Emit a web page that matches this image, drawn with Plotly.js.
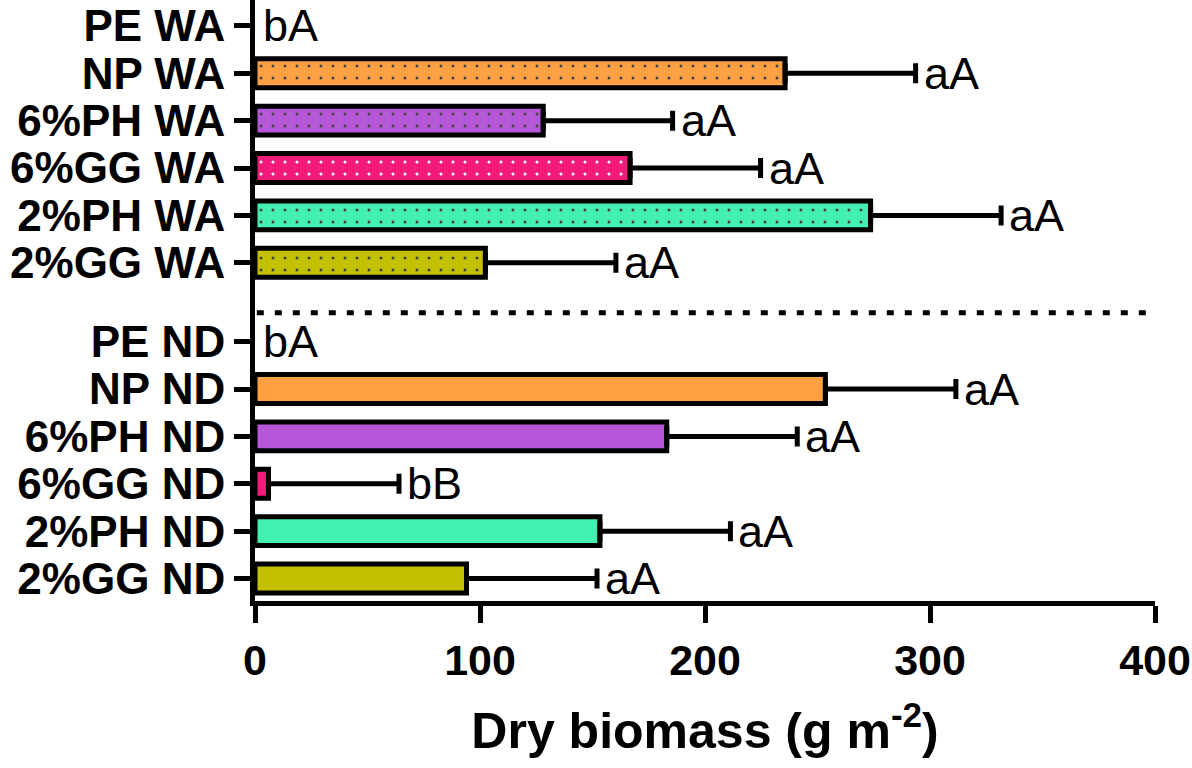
<!DOCTYPE html>
<html>
<head>
<meta charset="utf-8">
<script src="https://cdn.plot.ly/plotly-3.0.1.min.js"></script>
<style>html,body{margin:0;padding:0;background:#fff;}</style>
</head>
<body>
<div id="chart" style="width:1192px;height:768px;"></div>
<script>
// Treatments listed bottom to top
const treatments = ['2%GG', '2%PH', '6%GG', '6%PH', 'NP', 'PE'];
const colors = ['#C2C000', '#42F0B2', '#F31A7A', '#B656D8', '#FFA142', '#FFA142'];

const ndMean = [94, 153.3, 6, 183, 253.5, 0];
const ndErr = [58, 58, 58, 58, 58, 0];
const ndLetters = ['aA', 'aA', 'bB', 'aA', 'aA', 'bA'];

const waMean = [102.4, 273.6, 166.7, 128.1, 235.6, 0];
const waErr = [58, 58, 58, 57.5, 58, 0];
const waLetters = ['aA', 'aA', 'aA', 'aA', 'aA', 'bA'];

const xTicks = [0, 100, 200, 300, 400];

const WA_OFFSET = 6.667;
const ndPos = treatments.map((t, i) => i);
const waPos = treatments.map((t, i) => i + WA_OFFSET);

const FONT = 'Arial, "Liberation Sans", sans-serif';

function barTrace(means, errs, pos, patterned) {
  const t = {
    type: 'bar',
    orientation: 'h',
    x: means.map(v => v === 0 ? null : v),
    y: pos,
    width: 0.61,
    marker: {
      color: colors,
      line: {color: '#000', width: 5}
    },
    error_x: {
      type: 'data', symmetric: false,
      array: errs, arrayminus: errs.map(() => 0),
      color: '#000', thickness: 5, width: 10
    },
    hoverinfo: 'skip',
    showlegend: false
  };
  if (patterned) {
    t.marker.pattern = {
      shape: '.', fillmode: 'overlay', fgcolor: '#000', fgopacity: 1,
      size: 12, solidity: 0.05
    };
  }
  return t;
}

const annotations = [];
function addLetters(means, errs, pos, letters) {
  letters.forEach((txt, i) => {
    annotations.push({
      x: means[i] + errs[i], y: pos[i], xref: 'x', yref: 'y',
      text: txt, showarrow: false, xanchor: 'left', yanchor: 'middle',
      xshift: 6, yshift: 0,
      font: {family: FONT, size: 45, color: '#000'}
    });
  });
}
addLetters(ndMean, ndErr, ndPos, ndLetters);
addLetters(waMean, waErr, waPos, waLetters);

const tickvals = ndPos.concat(waPos);
const ticktext = treatments.map(t => t + ' ND').concat(treatments.map(t => t + ' WA'));

const layout = {
  width: 1192, height: 768,
  margin: {l: 255, r: 37, t: 0, b: 166.5},
  paper_bgcolor: '#fff', plot_bgcolor: '#fff',
  bargap: 0,
  xaxis: {
    range: [0, 400], tickvals: xTicks, ticktext: xTicks.map(String),
    showline: true, linecolor: '#000', linewidth: 5,
    ticks: 'outside', ticklen: 17, tickwidth: 5, tickcolor: '#000',
    showgrid: false, zeroline: false,
    tickfont: {family: FONT, size: 43, color: '#000', weight: 'bold'},
    title: {text: 'Dry biomass (g m<sup>-2</sup>)', standoff: 32,
            font: {family: FONT, size: 50, color: '#000', weight: 'bold'}}
  },
  yaxis: {
    range: [-0.475, 12.215], tickvals: tickvals, ticktext: ticktext,
    showline: true, linecolor: '#000', linewidth: 5,
    ticks: 'outside', ticklen: 16, tickwidth: 5, tickcolor: '#000',
    ticklabelstandoff: 0,
    showgrid: false, zeroline: false,
    tickfont: {family: FONT, size: 44, color: '#000', weight: 'bold'}
  },
  shapes: [{
    type: 'line', xref: 'x', yref: 'y',
    x0: 0.8, x1: 400, y0: 5.61, y1: 5.61,
    line: {color: '#000', width: 5, dash: '7px,11px'}
  }],
  annotations: annotations
};

Plotly.newPlot('chart', [barTrace(ndMean, ndErr, ndPos, false), barTrace(waMean, waErr, waPos, true)], layout, {displayModeBar: false, staticPlot: true});
</script>
</body>
</html>
